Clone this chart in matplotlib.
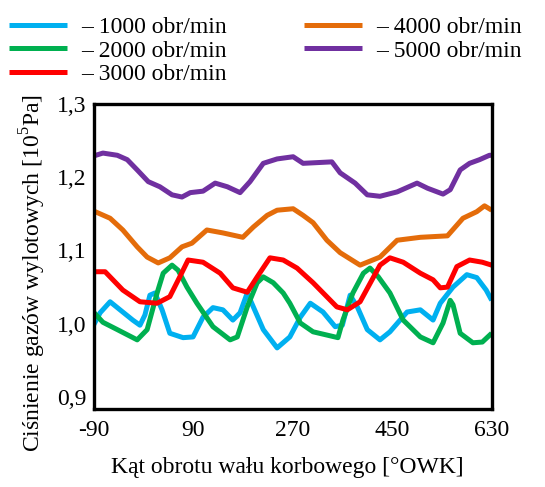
import matplotlib
matplotlib.use("Agg")
import matplotlib.pyplot as plt

plt.rcParams['font.family'] = ['Liberation Serif', 'DejaVu Serif']
plt.rcParams['mathtext.fontset'] = 'custom'
plt.rcParams['mathtext.rm'] = 'Liberation Serif'
plt.rcParams['font.size'] = 17

# kat obrotu [deg] i cisnienie [10^5 Pa]
kat_1000 = [-90, -78, -60, -42, -19, -6, 3, 12, 21, 34, 48, 72, 90, 108, 126, 144, 162, 175,
            188, 199, 217, 242, 265, 284, 302, 325, 347, 360, 374, 387, 405, 428, 446, 477,
            501, 524, 537, 560, 585, 603, 620, 630]
p_1000 = [0.998, 1.015, 1.030, 1.019, 1.005, 0.998, 1.012, 1.039, 1.042, 1.019, 0.987, 0.981,
          0.982, 1.009, 1.022, 1.019, 1.005, 1.015, 1.042, 1.023, 0.992, 0.967, 0.982, 1.009,
          1.028, 1.016, 0.996, 0.998, 1.039, 1.023, 0.992, 0.978, 0.989, 1.016, 1.019, 1.005,
          1.028, 1.050, 1.067, 1.063, 1.046, 1.032]

kat_2000 = [-90, -73, -47, -11, 7, 25, 36, 52, 63, 79, 97, 126, 157, 170, 188, 206, 217, 235,
            253, 265, 284, 307, 352, 361, 379, 398, 410, 425, 446, 470, 501, 524, 542, 555,
            560, 573, 596, 613, 630]
p_2000 = [1.016, 1.002, 0.992, 0.978, 0.992, 1.042, 1.069, 1.080, 1.073, 1.050, 1.028, 0.996,
          0.978, 0.982, 1.023, 1.056, 1.064, 1.056, 1.042, 1.028, 1.001, 0.989, 0.981, 1.005,
          1.042, 1.069, 1.076, 1.064, 1.042, 1.005, 0.982, 0.974, 1.001, 1.032, 1.026, 0.987,
          0.974, 0.975, 0.987]

kat_3000 = [-90, -69, -37, -6, 25, 48, 66, 81, 108, 139, 162, 188, 206, 229, 253, 278, 307,
            350, 369, 392, 428, 446, 470, 501, 524, 537, 550, 567, 590, 613, 630]
p_3000 = [1.071, 1.071, 1.046, 1.030, 1.028, 1.037, 1.064, 1.087, 1.084, 1.069, 1.049, 1.043,
          1.064, 1.090, 1.087, 1.076, 1.056, 1.023, 1.019, 1.030, 1.080, 1.090, 1.084, 1.069,
          1.060, 1.049, 1.050, 1.078, 1.087, 1.084, 1.080]

kat_4000 = [-90, -60, -37, -11, 7, 27, 48, 70, 88, 115, 144, 180, 199, 224, 242, 271, 289, 307,
            332, 356, 392, 428, 459, 501, 550, 578, 603, 617, 630]
p_4000 = [1.154, 1.144, 1.128, 1.105, 1.091, 1.083, 1.090, 1.105, 1.110, 1.128, 1.124, 1.118,
          1.132, 1.148, 1.155, 1.157, 1.148, 1.138, 1.114, 1.097, 1.080, 1.091, 1.114, 1.118,
          1.120, 1.144, 1.153, 1.161, 1.155]

kat_5000 = [-90, -73, -47, -29, -11, 9, 30, 52, 70, 85, 108, 130, 152, 175, 193, 217, 242, 271,
            289, 341, 356, 383, 405, 428, 459, 495, 514, 542, 555, 573, 590, 608, 626, 630]
p_5000 = [1.229, 1.233, 1.230, 1.224, 1.210, 1.194, 1.187, 1.176, 1.173, 1.179, 1.181, 1.192,
          1.187, 1.179, 1.194, 1.219, 1.225, 1.228, 1.219, 1.221, 1.206, 1.192, 1.176, 1.174,
          1.180, 1.192, 1.185, 1.177, 1.183, 1.210, 1.219, 1.224, 1.230, 1.230]

serie = [
    (kat_1000, p_1000, '#00B0F0', '– 1000 obr/min'),
    (kat_2000, p_2000, '#00B050', '– 2000 obr/min'),
    (kat_3000, p_3000, '#FF0000', '– 3000 obr/min'),
    (kat_4000, p_4000, '#E46C0A', '– 4000 obr/min'),
    (kat_5000, p_5000, '#7030A0', '– 5000 obr/min'),
]
x_ticks = [-90, 90, 270, 450, 630]
y_ticks = [0.9, 1.0, 1.1, 1.2, 1.3]
y_labels = ['0,9', '1,0', '1,1', '1,2', '1,3']

W, H = 545, 487
fig = plt.figure(figsize=(W / 100, H / 100), dpi=100)
ax = fig.add_axes([93.5 / W, 1 - 409 / H, (491.7 - 93.5) / W, (409 - 104) / H])

for kat, p, kolor, etykieta in serie:
    ax.plot(kat, p, color=kolor, linewidth=3.6, label=etykieta,
            solid_joinstyle='round', solid_capstyle='butt')

ax.set_xlim(-90, 630)
ax.set_ylim(0.8836, 1.3)
ax.set_xticks(x_ticks)
ax.set_xticklabels([str(t) for t in x_ticks])
ax.set_yticks(y_ticks)
ax.set_yticklabels(y_labels)
ax.tick_params(length=0)
ax.tick_params(axis='x', pad=8)
ax.tick_params(axis='y', pad=5)
for s in ax.spines.values():
    s.set_linewidth(2.4)

fig.text(287 / W, 1 - 468 / H, 'Kąt obrotu wału korbowego [°OWK]', ha='center', va='center')
fig.text(33 / W, 1 - 273 / H, 'Ciśnienie gazów wylotowych [10$^5$Pa]',
         rotation=90, ha='center', va='center')

fig.legend(loc='upper left', bbox_to_anchor=(0.0, 0.985), ncol=2, frameon=False,
           handlelength=2.45, handletextpad=0.6, labelspacing=0.08,
           columnspacing=3.25, borderaxespad=0.2, borderpad=0.2)

plt.savefig('out.png', dpi=100)
plt.close('all')
